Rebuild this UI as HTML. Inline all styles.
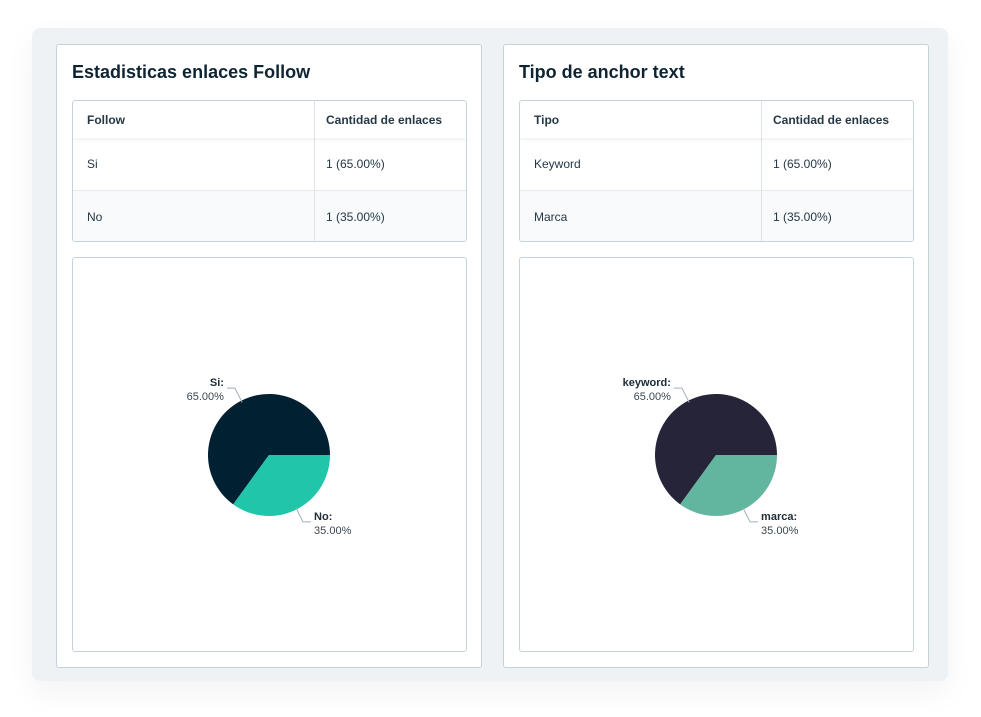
<!DOCTYPE html>
<html><head><meta charset="utf-8"><style>
body{margin:0;width:981px;height:717px;background:#fff;font-family:"Liberation Sans",sans-serif;position:relative;overflow:hidden}
.outer{position:absolute;left:32px;top:28px;width:916px;height:653px;background:#eef2f5;border-radius:8px;box-shadow:0 12px 30px rgba(0,0,0,0.05)}
.panel{position:absolute;top:44px;width:424px;height:622px;background:#fff;border:1px solid #c6d2d8;border-radius:3px}
.title{position:absolute;left:15px;top:17px;font-size:18px;font-weight:bold;color:#0f2433}
.tbl{position:absolute;left:15px;top:55px;width:393px;height:140px;border:1px solid #c6d2d8;border-radius:3px;overflow:hidden;font-size:12px;color:#243845}
.row{position:absolute;left:0;width:393px}
.cell{position:absolute;top:0;height:100%;display:flex;align-items:center;box-sizing:border-box;padding-left:14px}
.c1{left:0;width:242px;border-right:1px solid #dde4e8}
.c2{left:242px;width:151px;padding-left:11px}
.chartbox{position:absolute;left:15px;top:212px;width:393px;height:393px;border:1px solid #c6d2d8;border-radius:3px}
svg text{font-family:"Liberation Sans",sans-serif;font-size:11px}
</style></head><body>
<div class="outer"></div>

<div class="panel" style="left:56px">
 <div class="title">Estadisticas enlaces Follow</div>
 <div class="tbl">
  <div class="row" style="top:0;height:37px;font-weight:bold;box-shadow:0 2px 4px rgba(0,0,0,0.06);z-index:1"><div class="cell c1">Follow</div><div class="cell c2">Cantidad de enlaces</div></div>
  <div class="row" style="top:37px;height:52px;border-bottom:1px solid #e3e9ec"><div class="cell c1">Si</div><div class="cell c2">1 (65.00%)</div></div>
  <div class="row" style="top:90px;height:51px;background:#f8fafb"><div class="cell c1">No</div><div class="cell c2">1 (35.00%)</div></div>
 </div>
 <div class="chartbox"><svg id="pie1" width="393" height="393"></svg></div>
</div>

<div class="panel" style="left:503px">
 <div class="title">Tipo de anchor text</div>
 <div class="tbl">
  <div class="row" style="top:0;height:37px;font-weight:bold;box-shadow:0 2px 4px rgba(0,0,0,0.06);z-index:1"><div class="cell c1">Tipo</div><div class="cell c2">Cantidad de enlaces</div></div>
  <div class="row" style="top:37px;height:52px;border-bottom:1px solid #e3e9ec"><div class="cell c1">Keyword</div><div class="cell c2">1 (65.00%)</div></div>
  <div class="row" style="top:90px;height:51px;background:#f8fafb"><div class="cell c1">Marca</div><div class="cell c2">1 (35.00%)</div></div>
 </div>
 <div class="chartbox"><svg id="pie2" width="393" height="393"></svg></div>
</div>

<script>
const followLabels = ["Si", "No"];
const followValues = [65, 35];
const followColors = ["#012133", "#20c5aa"];
const anchorLabels = ["keyword", "marca"];
const anchorValues = [65, 35];
const anchorColors = ["#262439", "#62b59e"];
const NS = "http://www.w3.org/2000/svg";

function mk(tag, attrs, parent){const e=document.createElementNS(NS,tag);for(const k in attrs)e.setAttribute(k,attrs[k]);parent.appendChild(e);return e;}

function drawPie(svgId, labels, values, colors){
  const svg=document.getElementById(svgId);
  const cx=196, cy=197, r=61;
  const total=values.reduce((a,b)=>a+b,0);
  // slices: first slice ends at 90deg (3 o'clock) going counter-clockwise; reorder: last slice starts at 90deg clockwise
  const pt=(a,rr)=>[cx+rr*Math.sin(a*Math.PI/180), cy-rr*Math.cos(a*Math.PI/180)];
  let start=90;
  const order=[];
  for(let i=values.length-1;i>=0;i--){const sweep=values[i]/total*360;order[i]={s:start,e:start+sweep};start+=sweep;}
  for(let i=0;i<values.length;i++){
    const {s,e}=order[i];
    const p1=pt(s,r), p2=pt(e,r);
    const large=(e-s)>180?1:0;
    const path=mk("path",{d:`M${cx},${cy} L${p1[0]},${p1[1]} A${r},${r} 0 ${large} 1 ${p2[0]},${p2[1]} Z`,fill:colors[i]},svg);
    
    
    const m=(s+e)/2;
    const a=pt(m,r-2), b=pt(m,r+14);
    const right=Math.sin(m*Math.PI/180)>=0;
    const c=[b[0]+(right?8:-8),b[1]];
    const ln=mk("polyline",{points:`${a[0]},${a[1]} ${b[0]},${b[1]} ${c[0]},${c[1]}`,fill:"none",stroke:"#9fb0b8","stroke-width":1},svg);
    
    
    const tx=c[0]+(right?3:-3);
    const t=mk("text",{x:tx,y:c[1]-2,"text-anchor":right?"start":"end",fill:"#1f2b36"},svg);
    
    
    const t1=mk("tspan",{"font-weight":"bold"},t);t1.textContent=labels[i]+":";
    const t2=mk("tspan",{x:tx,dy:14,fill:"#3a4650"},t);t2.textContent=(values[i]/total*100).toFixed(2)+"%";
  }
}
drawPie("pie1",followLabels,followValues,followColors);
drawPie("pie2",anchorLabels,anchorValues,anchorColors);
</script>
</body></html>
